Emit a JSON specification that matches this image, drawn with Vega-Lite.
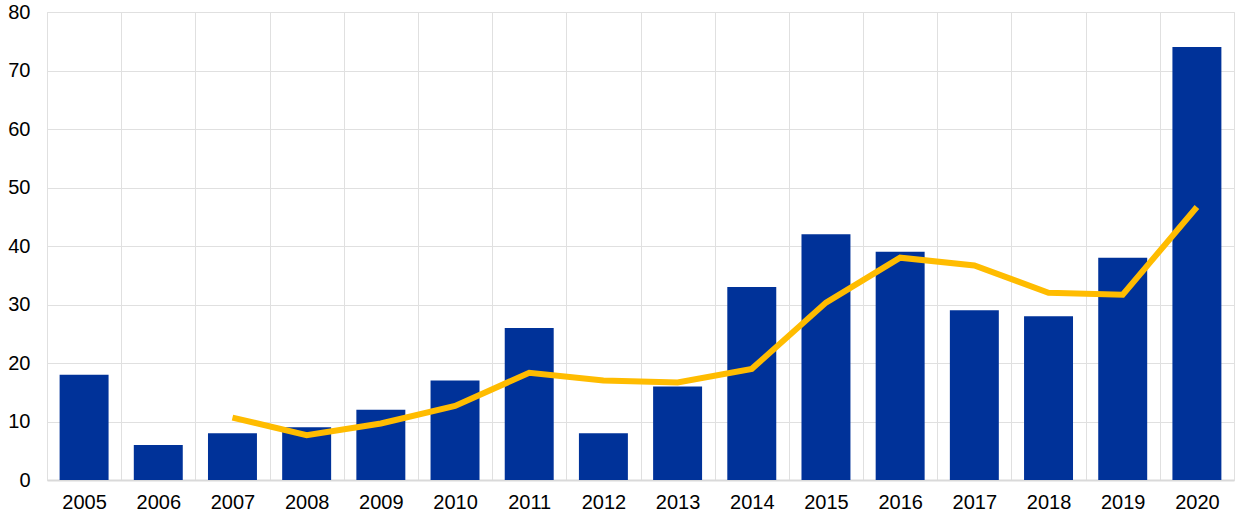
{
  "$schema": "https://vega.github.io/schema/vega-lite/v6.json",
  "autosize": "none",
  "width": 1187,
  "height": 468,
  "padding": {"left": 47, "top": 12, "right": 6, "bottom": 42},
  "background": "white",
  "config": {
    "view": {"stroke": "#e0e0e0", "strokeWidth": 1},
    "font": "Liberation Sans"
  },
  "data": {"values": [
    {"year": "2005", "value": 18, "avg": null},
    {"year": "2006", "value": 6, "avg": null},
    {"year": "2007", "value": 8, "avg": 10.67},
    {"year": "2008", "value": 9, "avg": 7.67},
    {"year": "2009", "value": 12, "avg": 9.67},
    {"year": "2010", "value": 17, "avg": 12.67},
    {"year": "2011", "value": 26, "avg": 18.33},
    {"year": "2012", "value": 8, "avg": 17.0},
    {"year": "2013", "value": 16, "avg": 16.67},
    {"year": "2014", "value": 33, "avg": 19.0},
    {"year": "2015", "value": 42, "avg": 30.33},
    {"year": "2016", "value": 39, "avg": 38.0},
    {"year": "2017", "value": 29, "avg": 36.67},
    {"year": "2018", "value": 28, "avg": 32.0},
    {"year": "2019", "value": 38, "avg": 31.67},
    {"year": "2020", "value": 74, "avg": 46.67}
  ]},
  "encoding": {
    "x": {"field": "year", "type": "ordinal", "title": null, "scale": {"paddingInner": 0, "paddingOuter": 0},
      "axis": {"labelAngle": 0, "grid": true, "gridColor": "#e0e0e0", "tickBand": "extent", "ticks": false, "labelPadding": 12, "domain": true, "domainColor": "#d9d9d9", "domainWidth": 2, "labelFont": "Liberation Sans", "labelFontSize": 20, "labelColor": "#000000"}}
  },
  "layer": [
    {
      "mark": {"type": "bar", "color": "#003299", "width": {"band": 0.66}},
      "encoding": {
        "y": {"field": "value", "type": "quantitative", "title": null, "scale": {"domain": [0, 80]},
          "axis": {"values": [0,10,20,30,40,50,60,70,80], "grid": true, "gridColor": "#e0e0e0", "ticks": false, "domain": false, "labelPadding": 17, "labelFont": "Liberation Sans", "labelFontSize": 20, "labelColor": "#000000", "labelOverlap": false}}
      }
    },
    {
      "transform": [{"filter": "datum.avg != null"}],
      "mark": {"type": "line", "color": "#FFBC00", "strokeWidth": 6},
      "encoding": {
        "y": {"field": "avg", "type": "quantitative", "title": null,
          "axis": {"values": [0,10,20,30,40,50,60,70,80], "grid": true, "gridColor": "#e0e0e0", "ticks": false, "domain": false, "labelPadding": 17, "labelFont": "Liberation Sans", "labelFontSize": 20, "labelColor": "#000000", "labelOverlap": false}}
      }
    }
  ]
}
